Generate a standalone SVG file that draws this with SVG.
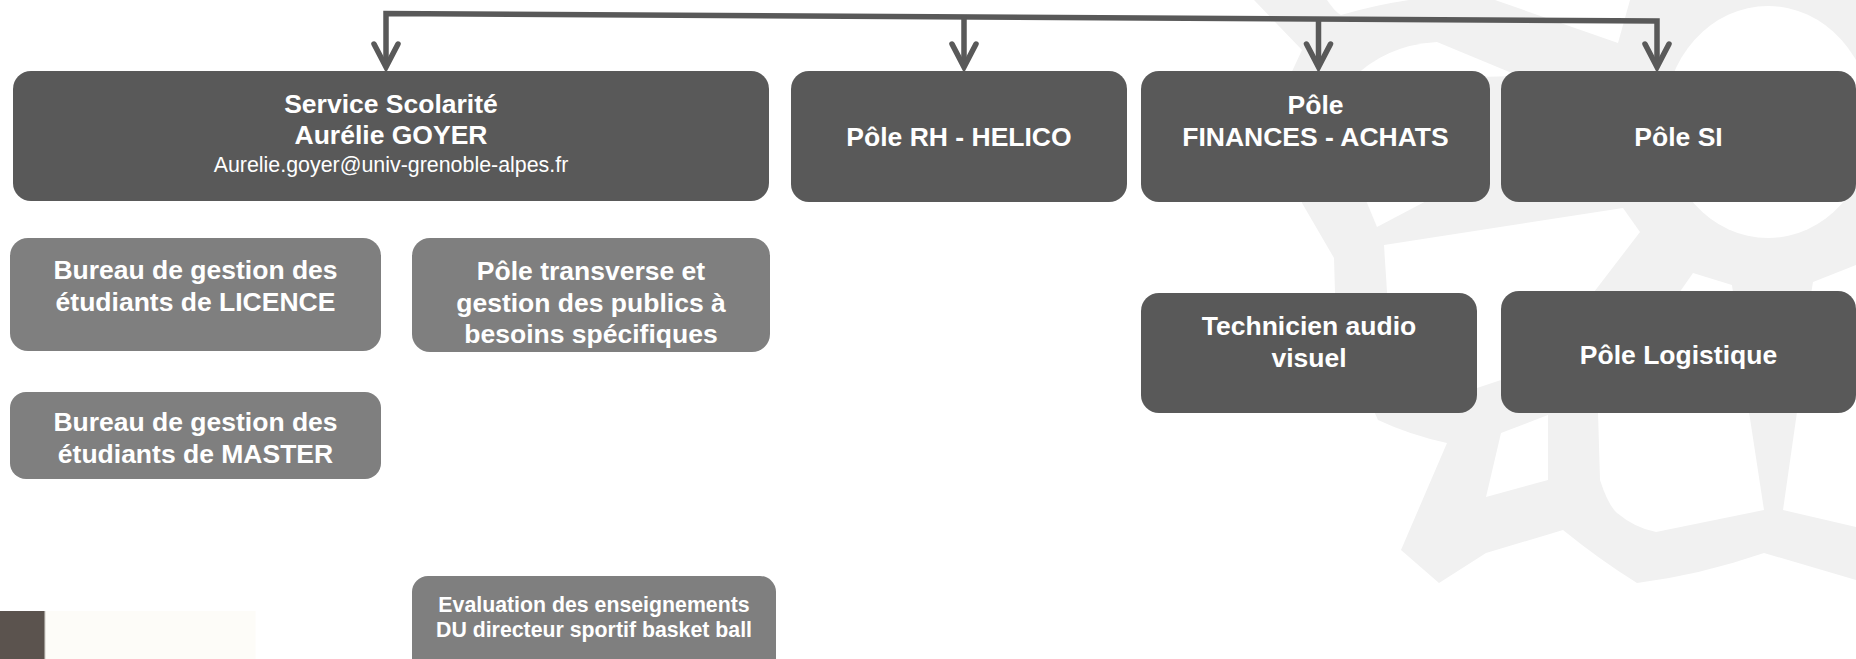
<svg xmlns="http://www.w3.org/2000/svg" width="1856" height="659" viewBox="0 0 1856 659">
  <style>
    .dark { fill: #595959; }
    .light { fill: #7f7f7f; }
    .t { font-family: "Liberation Sans", Arial, Helvetica, sans-serif; font-weight: bold; font-size: 26.5px; fill: #ffffff; text-anchor: middle; }
    .ts { font-family: "Liberation Sans", Arial, Helvetica, sans-serif; font-weight: bold; font-size: 21.3px; fill: #ffffff; text-anchor: middle; }
    .mail { font-family: "Liberation Sans", Arial, Helvetica, sans-serif; font-weight: normal; font-size: 21.4px; fill: #ffffff; text-anchor: middle; }
    .wm { fill: #f1f1f1; }
    .hole { fill: #ffffff; }
    .conn { fill: none; stroke: #595959; stroke-width: 5.5; stroke-linejoin: miter; }
    .head { fill: none; stroke: #595959; stroke-width: 5.5; stroke-linecap: round; stroke-linejoin: miter; }
  </style>
  <rect x="0" y="0" width="1856" height="659" fill="#ffffff"/>

  <g id="watermark">
    <path class="wm" d="M1254,0 L1856,0 L1856,580 L1764,553 Q1700,575 1637,583 Q1600,560 1563,530 L1486,553 L1439,583 L1401,550 L1447,443 Q1410,435 1378,420 L1360,380 L1335,293 L1334,258 L1302,203 L1295,140 L1288,80 L1302,50 Z"/>
    <path class="hole" d="M1327,0 Q1335,12 1341,15 Q1375,5 1409,0 Z"/>
    <path class="hole" d="M1351,80 Q1385,45 1437,42 L1519,76 Z"/>
    <path class="hole" d="M1495,0 L1630,0 L1618,43 Z"/>
    <ellipse class="hole" cx="1768" cy="122" rx="104" ry="116"/>
    <path class="hole" d="M1365,198 L1432,198 L1377,227 Z"/>
    <path class="hole" d="M1384,245 L1623,208 L1640,232 L1594,292 L1540,350 L1501,380 L1477,388 L1440,380 L1400,350 L1387,292 Z"/>
    <path class="hole" d="M1501,433 L1548,415 L1548,480 L1486,497 Z"/>
    <path class="hole" d="M1598,412 L1600,480 Q1608,505 1617,513 Q1635,528 1656,532 L1764,510 L1749,412 L1732,285 L1693,273 L1679,293 L1620,370 Z"/>
    <path class="hole" d="M1813,282 L1856,265 L1856,527 L1783,510 L1797,412 L1805,330 Z"/>
  </g>

  <g id="corner-band">
    <rect x="0" y="611" width="44" height="48" fill="#5b534e"/>
    <rect x="44" y="611" width="1.5" height="48" fill="#9a9690"/>
    <rect x="45.5" y="611" width="210" height="48" fill="#fdfcf8"/>
  </g>

  <g id="connectors">
    <path class="conn" d="M386,66 L386,13.5 L1657,21 L1657,66"/>
    <path class="conn" d="M964,17.8 L964,66"/>
    <path class="conn" d="M1318.5,19.8 L1318.5,66"/>
    <path class="head" d="M374,44 L386,67 L398,44"/>
    <path class="head" d="M952,44 L964,67 L976,44"/>
    <path class="head" d="M1306.5,44 L1318.5,67 L1330.5,44"/>
    <path class="head" d="M1645,44 L1657,67 L1669,44"/>
  </g>

  <g id="service-scolarite">
    <rect class="dark" x="13" y="71" width="756" height="130" rx="18"/>
    <text class="t" x="391" y="112.7">Service Scolarité</text>
    <text class="t" x="391" y="144.3">Aurélie GOYER</text>
    <text class="mail" x="391" y="171.7">Aurelie.goyer@univ-grenoble-alpes.fr</text>
  </g>

  <g id="pole-rh">
    <rect class="dark" x="791" y="71" width="336" height="131" rx="18"/>
    <text class="t" x="959" y="145.6">Pôle RH - HELICO</text>
  </g>

  <g id="pole-finances">
    <rect class="dark" x="1141" y="71" width="349" height="131" rx="18"/>
    <text class="t" x="1315.5" y="114">Pôle</text>
    <text class="t" x="1315.5" y="145.6">FINANCES - ACHATS</text>
  </g>

  <g id="pole-si">
    <rect class="dark" x="1501" y="71" width="355" height="131" rx="18"/>
    <text class="t" x="1678.5" y="145.6">Pôle SI</text>
  </g>

  <g id="bureau-licence">
    <rect class="light" x="10" y="238" width="371" height="113" rx="18"/>
    <text class="t" x="195.5" y="279.4">Bureau de gestion des</text>
    <text class="t" x="195.5" y="311">étudiants de LICENCE</text>
  </g>

  <g id="pole-transverse">
    <rect class="light" x="412" y="238" width="358" height="114" rx="18"/>
    <text class="t" x="591" y="280">Pôle transverse et</text>
    <text class="t" x="591" y="311.6">gestion des publics à</text>
    <text class="t" x="591" y="343">besoins spécifiques</text>
  </g>

  <g id="bureau-master">
    <rect class="light" x="10" y="392" width="371" height="87" rx="16"/>
    <text class="t" x="195.5" y="431">Bureau de gestion des</text>
    <text class="t" x="195.5" y="462.6">étudiants de MASTER</text>
  </g>

  <g id="evaluation">
    <rect class="light" x="412" y="576" width="364" height="100" rx="16"/>
    <text class="ts" x="594" y="611.5">Evaluation des enseignements</text>
    <text class="ts" x="594" y="637">DU directeur sportif basket ball</text>
  </g>

  <g id="technicien">
    <rect class="dark" x="1141" y="293" width="336" height="120" rx="18"/>
    <text class="t" x="1309" y="335">Technicien audio</text>
    <text class="t" x="1309" y="366.7">visuel</text>
  </g>

  <g id="pole-logistique">
    <rect class="dark" x="1501" y="291" width="355" height="122" rx="18"/>
    <text class="t" x="1678.5" y="364">Pôle Logistique</text>
  </g>
</svg>
